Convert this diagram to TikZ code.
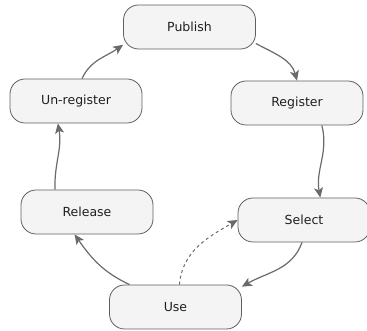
\documentclass[tikz,border=0pt]{standalone}
\usepackage{fontspec}
\setmainfont{DejaVu Sans}
\usetikzlibrary{positioning, arrows.meta}

\definecolor{boxfill}{HTML}{F4F4F4}
\definecolor{boxline}{HTML}{5F5F5F}
\definecolor{arrowgray}{HTML}{6A6A6A}

\tikzset{
    stage/.style={draw=boxline, fill=boxfill, thick, rounded corners=15pt, minimum width=132pt, minimum height=44pt, inner sep=0pt, text=black!88, font=\fontsize{12.5}{14}\selectfont},
    flow/.style={draw=arrowgray, line width=1.2pt, -{Stealth[length=10pt, width=9pt, inset=2.5pt]}}
}

\begin{document}
\begin{tikzpicture}[x=1pt, y=1pt]
        \useasboundingbox (0,0) rectangle (367,331);
        \node[stage] (pub) at (189.5,304) {Publish};
        \node[stage] (reg) at (297,228) {Register};
        \node[stage] (sel) at (304,111) {Select};
        \node[stage] (use) at (175.5,24) {Use};
        \node[stage] (rel) at (87,119) {Release};
        \node[stage] (ureg) at (76,230) {Un-register};
        \draw[flow] (pub.-14) to[out=-28, in=105] (reg.north);
        \draw[flow] (reg.-42) to[out=-76, in=100] (sel.54);
        \draw[flow] (sel.-95) to[out=-110, in=30] (use.17);
        \draw[flow] (use.154) to[out=155, in=-55] (rel.-119);
        \draw[flow] (rel.145) to[out=92, in=-80] (ureg.-129);
        \draw[flow] (ureg.75) to[out=65, in=-145] (pub.195);
        \draw[flow, dashed, line width=1pt] (use.80) to[out=85, in=-150] (sel.west);
    \end{tikzpicture}
\end{document}
